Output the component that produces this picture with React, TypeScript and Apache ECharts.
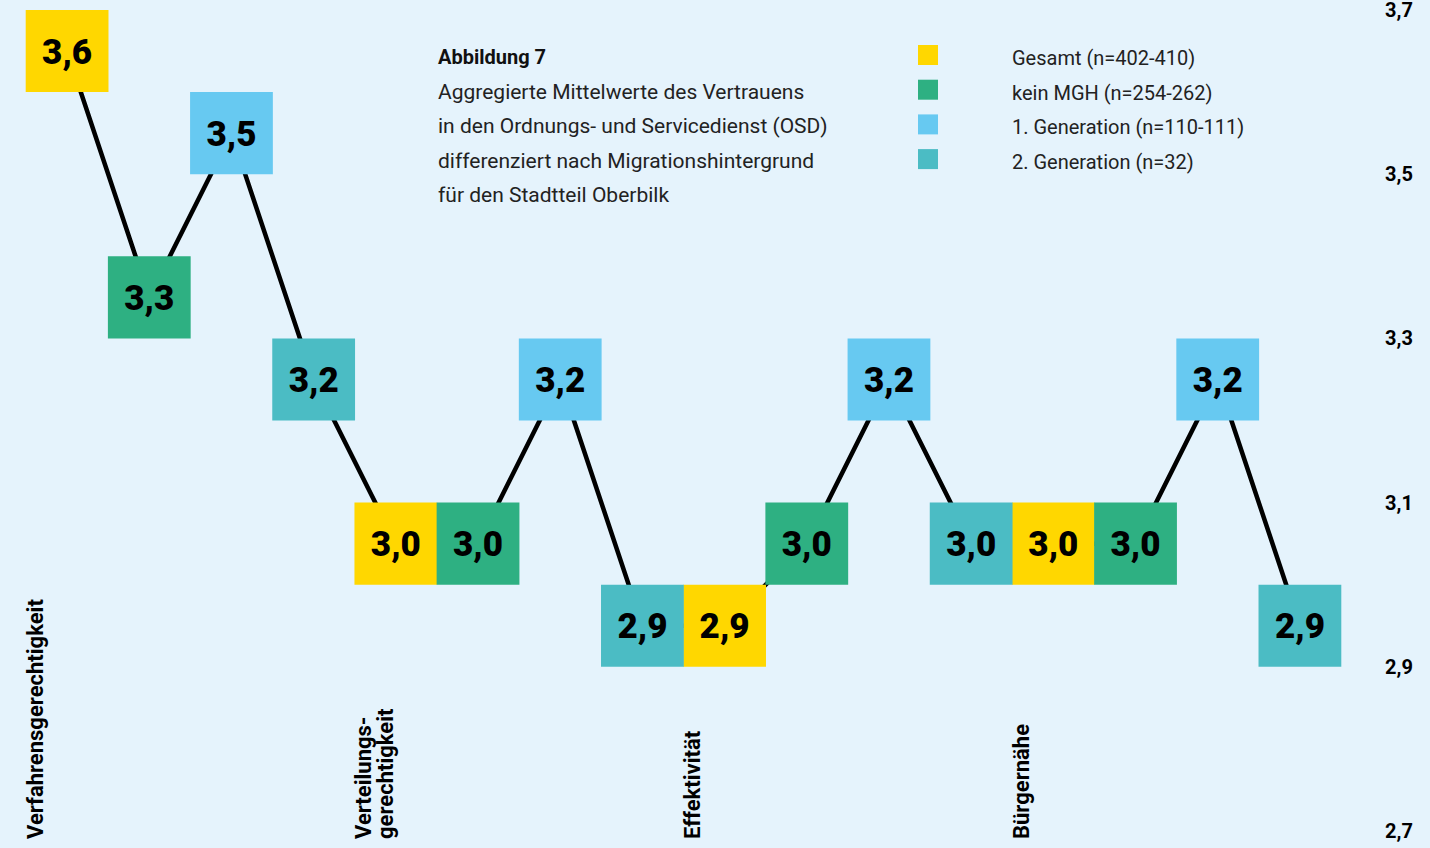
import React, { useEffect, useRef } from "react";
import * as echarts from "echarts";

const BASE = 2.7;
const dimensions = [
  "Verfahrensgerechtigkeit",
  "Verteilungs-\ngerechtigkeit",
  "Effektivität",
  "Bürgernähe",
];
const groupNames = [
  "Gesamt (n=402-410)",
  "kein MGH (n=254-262)",
  "1. Generation (n=110-111)",
  "2. Generation (n=32)",
];
const groupColors = ["#FFD700", "#2EB082", "#67C9F1", "#4BBCC4"];
// values per group, one per dimension
const gesamt = [3.6, 3.0, 2.9, 3.0];
const keinMGH = [3.3, 3.0, 3.0, 3.0];
const gen1 = [3.5, 3.2, 3.2, 3.2];
const gen2 = [3.2, 2.9, 3.0, 2.9];
const groupValues = [gesamt, keinMGH, gen1, gen2];
const BOX = 0.1; // box height in value units

const FONT = "Roboto, 'Noto Sans', sans-serif";

export default function App() {
  const ref = useRef<HTMLDivElement>(null);
  useEffect(() => {
    document.body.style.margin = "0";
    const chart = echarts.init(ref.current!, null, { renderer: "svg" });
    const categories: string[] = [];
    const lineData: number[] = [];
    dimensions.forEach((d, di) => {
      groupNames.forEach((g, gi) => {
        categories.push(d.replace("-\n", "") + " – " + g);
        lineData.push(+(groupValues[gi][di] - BASE + BOX / 2).toFixed(3));
      });
    });
    const n = groupNames.length;
    const boxSeries = groupNames.map((g, gi) => ({
      type: "custom",
      name: g,
      color: groupColors[gi],
      z: 5,
      data: groupValues[gi].map((v, di) => [di * n + gi, +(v - BASE).toFixed(3)]),
      renderItem: (params: any, api: any) => {
        const idx = api.value(0);
        const v = api.value(1);
        const bottom = api.coord([idx, v]);
        const top = api.coord([idx, v + BOX]);
        const w = api.size([1, 0])[0];
        return {
          type: "group",
          children: [
            {
              type: "rect",
              shape: { x: bottom[0] - w / 2 - 0.3, y: top[1], width: w + 0.6, height: bottom[1] - top[1] },
              style: { fill: groupColors[gi] },
            },
            {
              type: "text",
              x: bottom[0],
              y: (top[1] + bottom[1]) / 2 + 1,
              style: {
                text: (v + BASE).toFixed(1).replace(".", ","),
                fill: "#000",
                font: `900 35px ${FONT}`,
                align: "center",
                verticalAlign: "middle",
              },
            },
          ],
        };
      },
    }));
    const option: any = {
      animation: false,
      backgroundColor: "#E5F3FC",
      textStyle: { fontFamily: FONT },
      grid: { left: 26, right: 89, top: 10, bottom: 17 },
      title: {
        left: 433,
        top: 35,
        text:
          "{b|Abbildung 7}\n{n|Aggregierte Mittelwerte des Vertrauens}\n{n|in den Ordnungs- und Servicedienst (OSD)}\n{n|differenziert nach Migrationshintergrund}\n{n|für den Stadtteil Oberbilk}",
        textStyle: {
          rich: {
            b: { fontSize: 20, fontWeight: "bold", color: "#111", lineHeight: 34.5, fontFamily: FONT },
            n: { fontSize: 21, fontWeight: "normal", color: "#222", lineHeight: 34.5, fontFamily: FONT },
          },
        },
      },
      legend: {
        orient: "vertical",
        left: 913,
        top: 40,
        itemWidth: 20,
        itemHeight: 20,
        itemGap: 11.7,
        icon: "rect",
        data: groupNames,
        formatter: "{t|{name}}",
        textStyle: {
          fontSize: 20,
          color: "#222",
          fontFamily: FONT,
          rich: {
            t: { fontSize: 20, color: "#222", fontFamily: FONT, padding: [6, 0, 0, 69] },
          },
        },
      },
      xAxis: {
        type: "category",
        data: categories,
        boundaryGap: true,
        axisLine: { show: false },
        axisTick: { show: false },
        axisLabel: { show: false },
        splitLine: { show: false },
      },
      yAxis: {
        type: "value",
        position: "right",
        min: 0,
        max: 1,
        interval: 0.2,
        axisLine: { show: false },
        axisTick: { show: false },
        splitLine: { show: false },
        axisLabel: {
          margin: 44,
          color: "#000",
          fontSize: 20,
          lineHeight: 18,
          fontWeight: "bold",
          fontFamily: FONT,
          formatter: (v: number) => (v + BASE).toFixed(1).replace(".", ","),
        },
      },
      series: [
        {
          type: "line",
          name: "Verlauf",
          data: lineData,
          symbol: "none",
          z: 2,
          lineStyle: { color: "#000", width: 4.5 },
        },
        ...boxSeries,
        {
          type: "custom",
          name: "Dimensionen",
          z: 6,
          data: dimensions.map((d, di) => [di * n, 0]),
          renderItem: (params: any, api: any) => {
            const idx = api.value(0);
            const p = api.coord([idx, 0]);
            const w = api.size([1, 0])[0];
            return {
              type: "text",
              x: p[0] - w / 2 - 2,
              y: p[1] + 8,
              rotation: Math.PI / 2,
              style: {
                text: dimensions[params.dataIndex],
                fill: "#000",
                font: `bold 22px ${FONT}`,
                lineHeight: 22,
                align: "left",
                verticalAlign: "top",
              },
            };
          },
        },
      ],
    };
    chart.setOption(option);
    return () => chart.dispose();
  }, []);
  return <div ref={ref} style={{ width: 1430, height: 848 }} />;
}
